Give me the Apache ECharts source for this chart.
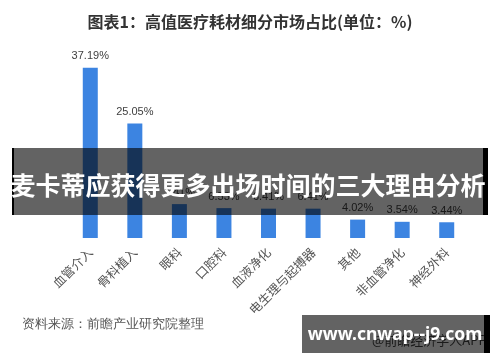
<!DOCTYPE html>
<html>
<head>
<meta charset="utf-8">
<script src="https://cdn.jsdelivr.net/npm/echarts@6/dist/echarts.min.js"></script>
<style>
html,body{margin:0;padding:0;background:#fff;}
#c{width:500px;height:362px;}
</style>
</head>
<body>
<div id="c"></div>
<script>
var categories = ['血管介入','骨科植入','眼科','口腔科','血液净化','电生理与起搏器','其他','非血管净化','神经外科'];
var shares = [37.19, 25.05, 7.41, 6.53, 6.41, 6.41, 4.02, 3.54, 3.44];
var chartTitle = '图表1：高值医疗耗材细分市场占比(单位：%)';
var sourceText = '资料来源：前瞻产业研究院整理';
var bannerText = '麦卡蒂应获得更多出场时间的三大理由分析';
var siteText = 'www.cnwap--j9.com';

var chart = echarts.init(document.getElementById('c'), null, {renderer:'canvas'});
var overlay = 'rgba(0,0,0,0.61)';
chart.setOption({
  animation:false,
  title:{
    text:chartTitle, left:'center', top:9,
    textStyle:{fontSize:16, fontWeight:'bold', color:'#333', fontFamily:'Noto Sans CJK SC'}
  },
  grid:{left:68, right:31, top:55, bottom:124},
  xAxis:{
    type:'category', data:categories,
    axisLine:{show:false}, axisTick:{show:false},
    axisLabel:{rotate:45, margin:12, fontSize:12.5, color:'#555', interval:0, fontFamily:'Noto Sans CJK SC'}
  },
  yAxis:{type:'value', min:0, max:40, show:false, splitLine:{show:false}},
  series:[{
    type:'bar', data:shares, barWidth:15,
    itemStyle:{color:'#3c84e1'},
    label:{show:true, position:'top', distance:6, formatter:function(p){return p.value.toFixed(2)+'%';}, fontSize:11, color:'#404040', fontFamily:'Liberation Sans'}
  }],
  graphic:[
    {type:'text', left:22, top:318, z:10, style:{text:sourceText, fontSize:12.5, fill:'#555', font:'12.5px "Noto Sans CJK SC"'}},
    {type:'text', left:372, top:334, z:10, style:{text:'@前瞻经济学人APP', fill:'#444', font:'13px "Noto Sans CJK SC"'}},
    {type:'rect', shape:{x:12, y:148, width:471, height:67}, z:100, style:{fill:overlay}},
    {type:'rect', shape:{x:12, y:148, width:2, height:67}, z:101, style:{fill:'#000'}},
    {type:'rect', shape:{x:483, y:148, width:5, height:67}, z:101, style:{fill:'#000'}},
    {type:'text', x:248, y:185, z:102, style:{text:bannerText, fill:'#fff', font:'bold 25px "Noto Sans CJK SC"', textAlign:'center', textVerticalAlign:'middle'}},
    {type:'rect', shape:{x:302, y:315, width:182, height:38}, z:100, style:{fill:overlay}},
    {type:'rect', shape:{x:484, y:315, width:6, height:38}, z:101, style:{fill:'#000'}},
    {type:'text', x:395, y:335, z:102, style:{text:siteText, fill:'#fff', font:'bold 17.5px "Noto Sans"', textAlign:'center', textVerticalAlign:'middle'}}
  ]
});
</script>
</body>
</html>
